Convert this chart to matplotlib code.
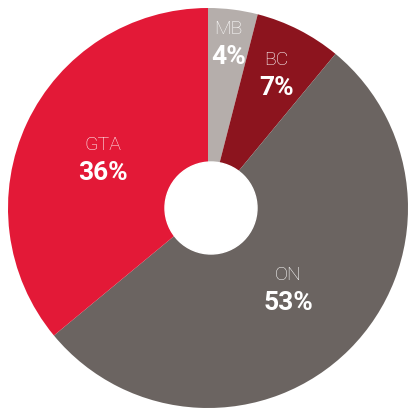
import numpy as np
import matplotlib
matplotlib.use("Agg")
import matplotlib.pyplot as plt

# share of total by region, clockwise from 12 o'clock
regions = ["MB", "BC", "ON", "GTA"]
shares = [4, 7, 53, 36]
colors = ["#b5aeab", "#8c141e", "#6b6461", "#e31937"]
label_r = [0.83, 0.75, 0.57, 0.58]

W, H = 408, 411
cx, cy, R = 208, 203, 200  # pixel centre (from bottom-left) and radius

fig = plt.figure(figsize=(W / 100, H / 100), dpi=100)
ax = fig.add_axes([0, 0, 1, 1])

wedges, _ = ax.pie(shares, colors=colors, startangle=90, counterclock=False,
                   radius=1.0, wedgeprops=dict(linewidth=0))
# white hole in the middle
ax.add_patch(plt.Circle((0.015, 0.0), 0.23, color="white", zorder=3))

# pie() resets the limits, so set them afterwards
ax.set_xlim(-cx / R, (W - cx) / R)
ax.set_ylim(-cy / R, (H - cy) / R)
ax.set_aspect("equal")
ax.axis("off")

for w, name, val, r in zip(wedges, regions, shares, label_r):
    ang = np.deg2rad((w.theta1 + w.theta2) / 2)
    x, y = r * np.cos(ang), r * np.sin(ang)
    ax.text(x, y + 0.07, name, ha="center", va="center", color="white",
            fontsize=14, family="Roboto", fontweight="light")
    ax.text(x, y - 0.07, f"{val}%", ha="center", va="center", color="white",
            fontsize=19, family="Roboto", fontweight="bold")

fig.savefig("out.png", dpi=100)
